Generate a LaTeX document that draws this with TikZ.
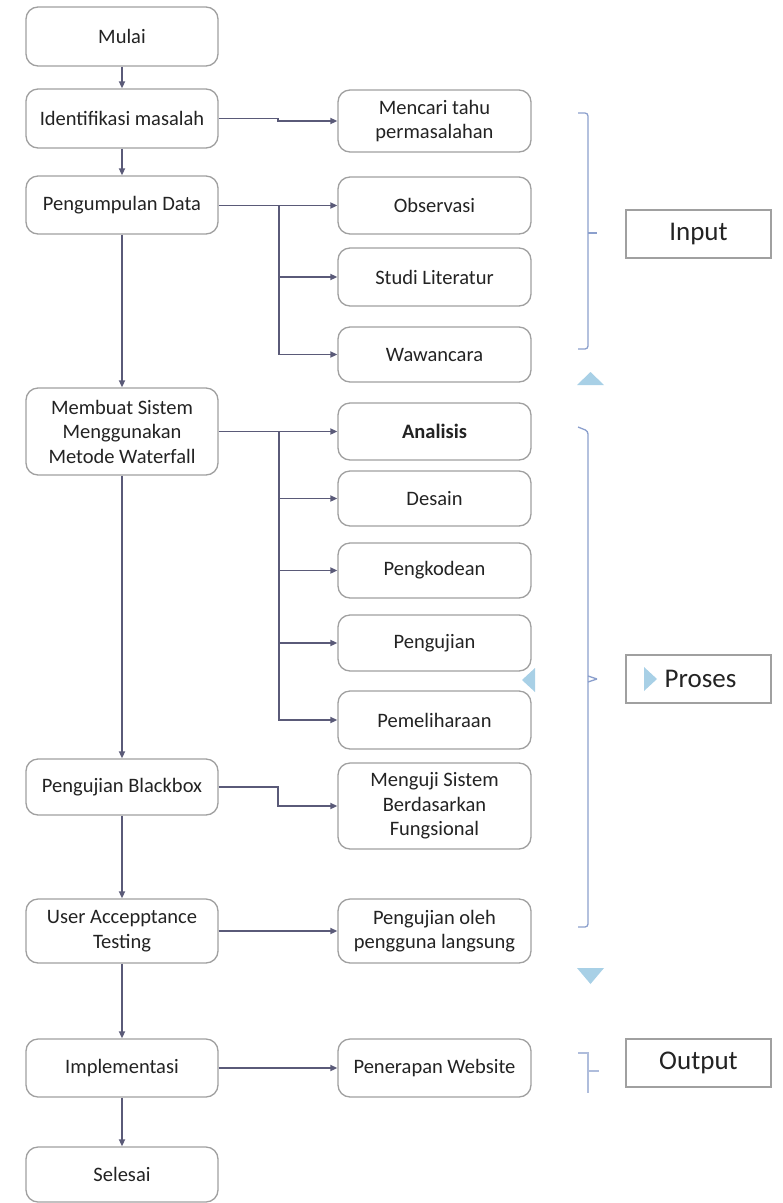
\documentclass[tikz,border=0pt]{standalone}
\usepackage{fontspec}
\setmainfont{Carlito}
\usetikzlibrary{arrows.meta}
\definecolor{conn}{RGB}{90,90,120}
\definecolor{boxline}{RGB}{160,160,160}
\definecolor{txt}{RGB}{35,35,35}
\definecolor{brace}{RGB}{140,160,205}
\definecolor{tri}{RGB}{168,208,230}
\tikzset{
  flowbox/.style={draw=boxline, line width=1.3pt, rounded corners=12pt, fill=white,
    text=txt, align=center, inner sep=2pt,
    font=\fontsize{20.5}{24.5}\selectfont},
  lbox/.style={flowbox, minimum width=192pt},
  rbox/.style={flowbox, minimum width=193pt},
  labbox/.style={draw=boxline, line width=1.5pt, minimum width=145pt, minimum height=48pt,
    text=txt, font=\fontsize{27}{30}\selectfont},
  arr/.style={draw=conn, line width=1.7pt, -{Triangle[length=7pt,width=6pt]}},
  brk/.style={draw=brace, line width=1.3pt, rounded corners=3pt},
  trishape/.style={fill=tri, draw=none}
}
\begin{document}
\begin{tikzpicture}[x=1pt,y=-1pt]
\useasboundingbox (0,0) rectangle (783,1203);
% left column
\node[lbox, minimum height=59pt] (mulai) at (122,36.5) {Mulai};
\node[lbox, minimum height=59pt] (ident) at (122,118.5) {Identifikasi masalah};
\node[lbox, minimum height=58pt] (kumpul) at (122,205) {Pengumpulan Data};
\node[lbox, minimum height=87pt] (buat) at (122,431.5) {Membuat Sistem\\Menggunakan\\Metode Waterfall};
\node[lbox, minimum height=56pt] (blackbox) at (122,787) {Pengujian Blackbox};
\node[lbox, minimum height=64pt] (uat) at (122,931) {User Accepptance\\Testing};
\node[lbox, minimum height=58pt] (impl) at (122,1068) {Implementasi};
\node[lbox, minimum height=55pt] (selesai) at (122,1174.5) {Selesai};
% right column
\node[rbox, minimum height=62pt] (cari) at (434.5,121) {Mencari tahu\\permasalahan};
\node[rbox, minimum height=57pt] (obs) at (434.5,205.5) {Observasi};
\node[rbox, minimum height=58pt] (studi) at (434.5,277) {Studi Literatur};
\node[rbox, minimum height=55pt] (wawan) at (434.5,354.5) {Wawancara};
\node[rbox, minimum height=57pt] (analisis) at (434.5,431.5) {\bfseries Analisis};
\node[rbox, minimum height=55pt] (desain) at (434.5,498.5) {Desain};
\node[rbox, minimum height=55pt] (kode) at (434.5,570.5) {Pengkodean};
\node[rbox, minimum height=56pt] (uji) at (434.5,643) {Pengujian};
\node[rbox, minimum height=58pt] (pelihara) at (434.5,720) {Pemeliharaan};
\node[rbox, minimum height=86pt] (menguji) at (434.5,806) {Menguji Sistem\\Berdasarkan\\Fungsional};
\node[rbox, minimum height=64pt] (oleh) at (434.5,931) {Pengujian oleh\\pengguna langsung};
\node[rbox, minimum height=58pt] (terap) at (434.5,1068) {Penerapan Website};
% vertical arrows
\draw[arr] (mulai) -- (ident);
\draw[arr] (ident) -- (kumpul);
\draw[arr] (kumpul) -- (buat);
\draw[arr] (buat) -- (blackbox);
\draw[arr] (blackbox) -- (uat);
\draw[arr] (uat) -- (impl);
\draw[arr] (impl) -- (selesai);
% horizontal connectors
\coordinate (s1) at (278,118.5);
\draw[arr] (ident.east) -- (s1) |- (cari.west);
\coordinate (b1) at (279,205.5);
\draw[arr] (kumpul.east |- obs.west) -- (obs.west);
\draw[arr] (b1) |- (studi.west);
\draw[arr] (b1) |- (wawan.west);
\coordinate (b2) at (279,431.5);
\draw[arr] (buat.east) -- (analisis.west);
\draw[arr] (b2) |- (desain.west);
\draw[arr] (b2) |- (kode.west);
\draw[arr] (b2) |- (uji.west);
\draw[arr] (b2) |- (pelihara.west);
\coordinate (s3) at (278,787);
\draw[arr] (blackbox.east) -- (s3) |- (menguji.west);
\draw[arr] (uat.east) -- (oleh.west);
\draw[arr] (impl.east) -- (terap.west);
% brackets
\draw[brk] (578,113) -- (588,113) -- (588,349) -- (578,349);
\draw[brk] (588,233) -- (597,233);
\draw[brk] (578,427) -- (588,431) -- (588,927) -- (578,927);
\draw[brk] (588,676) -- (597,679);
\draw[brk] (588,682) -- (597,679);
\draw[draw=brace!70, line width=1.3pt] (578,1053) -- (588,1053) -- (588,1093);
\draw[draw=brace!70, line width=1.3pt] (588,1071) -- (599,1071);
% triangles
\fill[trishape] (577,385) -- (604,385) -- (590.5,372) -- cycle;
\fill[trishape] (577,968) -- (604,968) -- (590.5,984) -- cycle;
\fill[trishape] (535,668) -- (535,692) -- (522,680) -- cycle;
% label boxes
\node[labbox] (input) at (698.5,234) {Input};
\node[labbox] (proses) at (698.5,679) {\hspace*{4pt}Proses};
\node[labbox] (output) at (698.5,1063) {Output};
\fill[trishape] (644,667) -- (644,691) -- (657,679) -- cycle;
\end{tikzpicture}
\end{document}
